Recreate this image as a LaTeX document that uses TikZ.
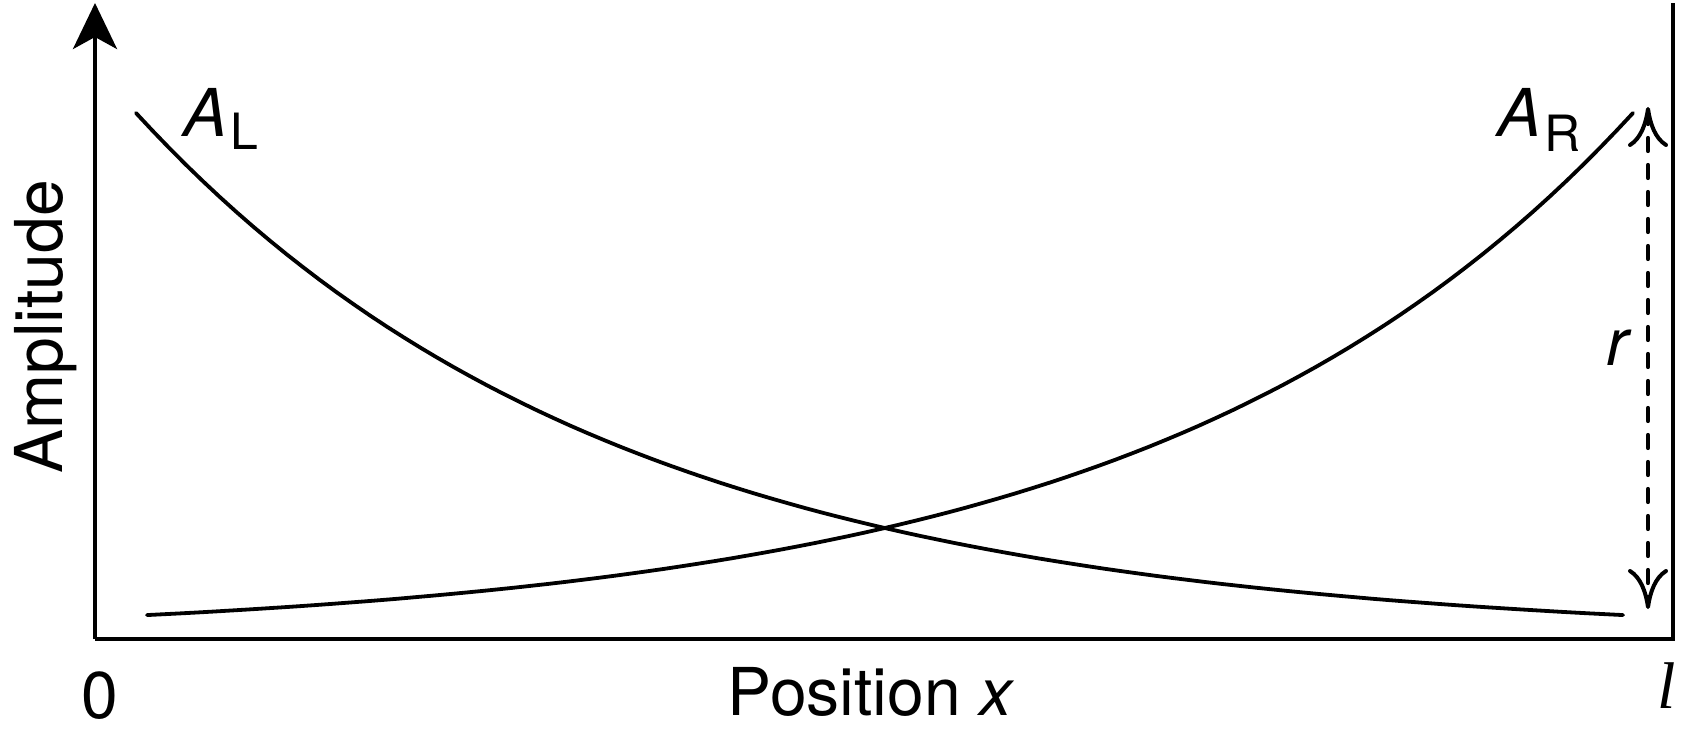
\documentclass[tikz,border=0pt]{standalone}
\usepackage{fontspec}
\setmainfont{TeX Gyre Heros}
\newfontfamily\serifl{Liberation Serif}
\usepackage{tikz}
\usetikzlibrary{positioning,arrows.meta}

\begin{document}
\begin{tikzpicture}
[
x=0.5pt, y=-0.5pt,
axis-a/.style={line width=2pt, line join=miter},
curve-a/.style={line width=1.9pt, line cap=round},
dash-a/.style={line width=2.1pt, line cap=round, dash pattern=on 6.5pt off 7pt,
  {To[length=20pt,width=20pt,line width=2pt]}-{To[length=20pt,width=20pt,line width=2pt]}},
text-a/.style={inner sep=0pt, font=\fontsize{33}{36}\selectfont},
text-s/.style={inner sep=0pt, font=\fontsize{25}{28}\selectfont}
]
\useasboundingbox (0,0) rectangle (1683,733);
\coordinate (origin)  at (95,639);
\coordinate (y-tip)   at (95,3);
\coordinate (x-end)   at (1673,639);
\coordinate (x-top)   at (1673,3);
\coordinate (r-top)   at (1648,107);
\coordinate (r-bot)   at (1648,609);
% axes
\draw[axis-a, -{Stealth[length=23pt,width=22pt,inset=6pt]}] (origin) -- (y-tip);
\draw[axis-a] (origin) -- (x-end) -- (x-top);
% amplitudes
\draw[curve-a] plot[domain=136:1623, samples=90] (\x, {639-526*exp(-3.09*(\x-136)/1487)});
\draw[curve-a] plot[domain=147:1633, samples=90] (\x, {639-526*exp(-3.09*(1633-\x)/1486)});
% ratio
\draw[dash-a] (r-top) -- (r-bot);
% labels
\node (amp)     [text-a, rotate=90, anchor=base] at (62,327)   {Amplitude};
\node (pos)     [text-a, anchor=base]            at (871,715)  {Position \textit{x}};
\node (zero)    [text-a, anchor=base]            at (100,718)  {0};
\node (ell)     [text-a, anchor=base]            at (1667,708) {\serifl\itshape l};
\node (r-lab)   [text-a, anchor=base]            at (1619,365) {\textit{r}};
\node (AL-A)    [text-a, anchor=base west]       at (183,137)  {\textit{A}};
\node (AL-sub)  [text-s, base right = 1pt of AL-A, yshift=-6.5pt] {L};
\node (AR-A)    [text-a, anchor=base west]       at (1497,137) {\textit{A}};
\node (AR-sub)  [text-s, base right = 1pt of AR-A, yshift=-7.5pt] {R};
\end{tikzpicture}
\end{document}
